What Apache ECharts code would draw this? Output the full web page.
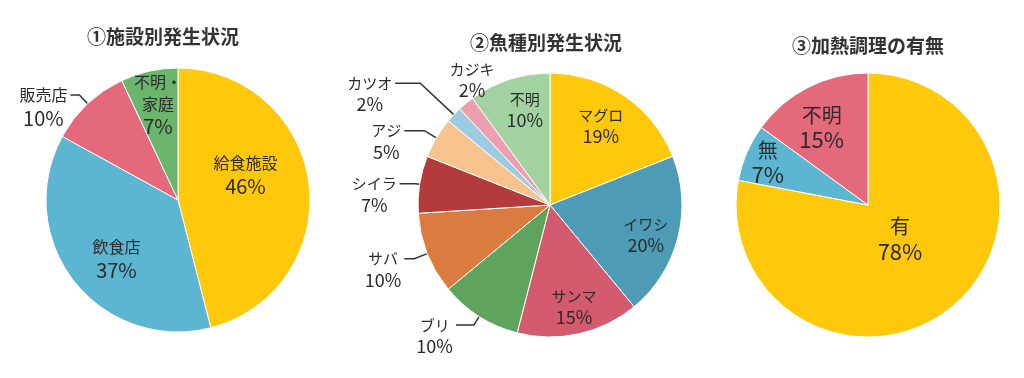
<!DOCTYPE html>
<html><head><meta charset="utf-8">
<script src="https://cdn.jsdelivr.net/npm/echarts@6/dist/echarts.min.js"></script>
<style>html,body{margin:0;padding:0;background:#fff}#c{width:1024px;height:378px}</style>
</head><body><div id="c"></div>
<script>
// ---- data ----
const titles = ['①施設別発生状況', '②魚種別発生状況', '③加熱調理の有無'];

const facilityNames = ['給食施設', '飲食店', '販売店', '不明・\n家庭'];
const facilityValues = [46, 37, 10, 7];

const fishNames = ['マグロ', 'イワシ', 'サンマ', 'ブリ', 'サバ', 'シイラ', 'アジ', 'カツオ', 'カジキ', '不明'];
const fishValues = [19, 20, 15, 10, 10, 7, 5, 2, 2, 10];

const cookNames = ['有', '無', '不明'];
const cookValues = [78, 7, 15];

// ---- styles ----
const facilityColors = ['#FFC80A', '#5CB5D1', '#E3697B', '#6BB56C'];
const fishColors = ['#FFC80A', '#4D9BB5', '#D35B6D', '#5EA45C', '#DA7B40', '#B33B3B', '#F6C38E', '#9DCBE0', '#EE9FAF', '#A2D2A2'];
const cookColors = ['#FFC80A', '#5CB5D1', '#E3697B'];

// per-item label style: [mode, a, b]; inside: offset [a,b]; outside: length a, length2 b
const facilityLabel = [['in', -1, -16], ['in', -7, 17], ['out', 12, 9], ['in', -5, -28]];
const fishLabel = [['in', 12, -22], ['in', 29, 13], ['in', 9, 35], ['out', 10, 18], ['out', 14, 10],
                   ['out', 4, 16], ['out', 14, 20], ['out', 46, 25], ['in', -34, -72], ['in', -4, -29]];
const cookLabel = [['in', -12, -19], ['in', -37, -15], ['in', -15, -16]];

const FONT = '"Noto Sans CJK JP", "Noto Sans", sans-serif';

function build(names, values, colors, lab) {
  return names.map((n, i) => {
    const l = lab[i];
    const item = {
      name: n, value: values[i],
      itemStyle: { color: colors[i] }
    };
    if (l[0] === 'in') {
      item.label = { position: 'inside', offset: [l[1], l[2]] };
    } else {
      item.label = { position: 'outside', distanceToLabelLine: 3 };
      item.labelLine = { show: true, length: l[1], length2: l[2] };
    }
    return item;
  });
}

function series(names, values, colors, lab, center, nameSize, pctSize, nameLH, pctLH) {
  return {
    type: 'pie',
    center: center,
    radius: 132,
    startAngle: 90,
    clockwise: true,
    avoidLabelOverlap: false,
    animation: false,
    itemStyle: { borderColor: '#ffffff', borderWidth: 1 },
    label: {
      show: true,
      fontFamily: FONT,
      color: '#2b2b2b',
      formatter: p => '{n|' + p.name.split('\n').join('}\n{n|') + '}\n{p|' + p.value + '%}',
      rich: {
        n: { fontSize: nameSize, fontFamily: FONT, color: '#2b2b2b', lineHeight: nameLH, align: 'center' },
        p: { fontSize: pctSize, fontFamily: FONT, color: '#2b2b2b', lineHeight: pctLH, align: 'center' }
      }
    },
    labelLayout: p => lab[p.dataIndex][0] === 'out' ? { verticalAlign: 'top', dy: -Math.round(nameLH / 2) } : {},
    labelLine: { lineStyle: { color: '#333', width: 1.5 } },
    emphasis: { disabled: true },
    data: build(names, values, colors, lab)
  };
}

const chart = echarts.init(document.getElementById('c'), null, { renderer: 'canvas' });
chart.setOption({
  backgroundColor: '#ffffff',
  title: [
    { text: titles[0], left: 158, top: 22, textAlign: 'center' },
    { text: titles[1], left: 541, top: 28, textAlign: 'center' },
    { text: titles[2], left: 863, top: 31, textAlign: 'center' }
  ].map(t => Object.assign(t, { textStyle: { fontFamily: FONT, fontSize: 19, fontWeight: 'bold', color: '#333' } })),
  series: [
    series(facilityNames, facilityValues, facilityColors, facilityLabel, [178, 200], 16, 20, 22, 24),
    series(fishNames, fishValues, fishColors, fishLabel, [550, 205], 15, 18, 20, 22),
    series(cookNames, cookValues, cookColors, cookLabel, [868, 205], 20, 22, 25, 25)
  ]
});
</script></body></html>
